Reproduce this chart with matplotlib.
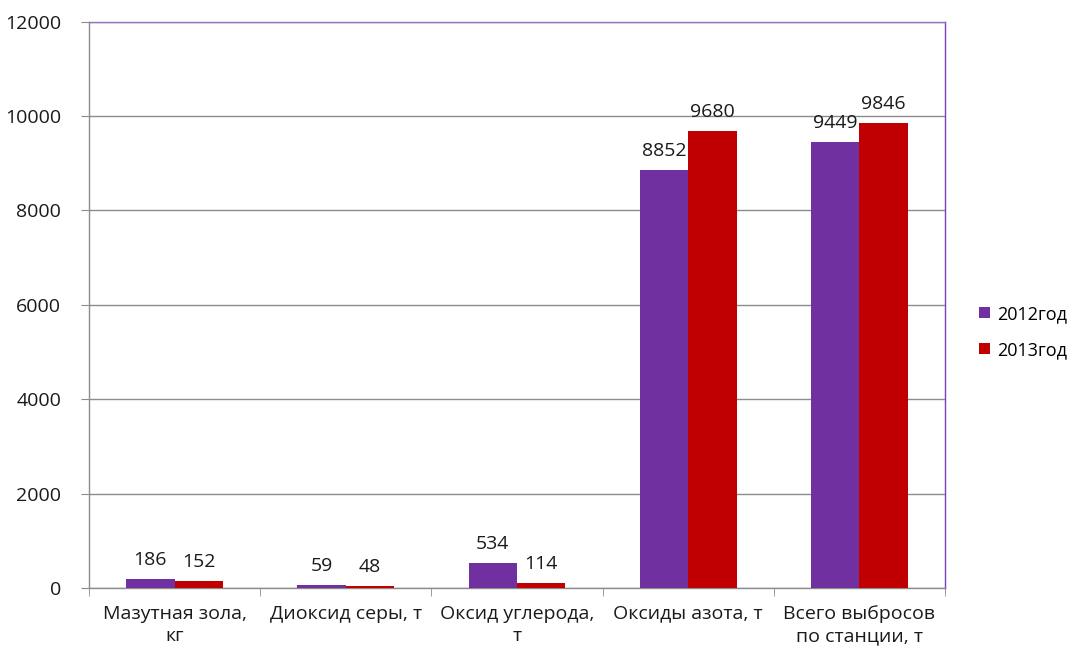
import numpy as np
import matplotlib.pyplot as plt
from matplotlib.ticker import FixedLocator

plt.rcParams['font.family'] = ['Open Sans', 'DejaVu Sans']

categories = ["Мазутная зола,\nкг", "Диоксид серы, т", "Оксид углерода,\nт",
              "Оксиды азота, т", "Всего выбросов\nпо станции, т"]
values_2012 = [186, 59, 534, 8852, 9449]
values_2013 = [152, 48, 114, 9680, 9846]
series_names = ["2012год", "2013год"]
colors = ["#7030A0", "#C00000"]

fig = plt.figure(figsize=(10.73, 6.48), dpi=100)
ax = fig.add_axes([0.0829, 0.0926, 0.7978, 0.8742])

x = np.arange(len(categories))
w = 0.283
b1 = ax.bar(x - w / 2, values_2012, w, color=colors[0], label=series_names[0], zorder=3)
b2 = ax.bar(x + w / 2, values_2013, w, color=colors[1], label=series_names[1], zorder=3)

for bars in (b1, b2):
    for rect in bars:
        h = rect.get_height()
        ax.annotate(str(int(h)), (rect.get_x() + rect.get_width() / 2, h),
                    xytext=(0, 7), textcoords="offset points",
                    ha="center", va="bottom", fontsize=14, color="#1a1a1a")

ax.set_xlim(-0.5, len(categories) - 0.5)
ax.set_ylim(0, 12000)
ax.set_yticks(np.arange(0, 12001, 2000))
ax.yaxis.grid(True, color="#8c8c8c", linewidth=1, zorder=0)
ax.set_axisbelow(True)

# category labels centred, ticks at the boundaries
ax.set_xticks(x)
ax.set_xticklabels(categories, fontsize=14, color="#1a1a1a", linespacing=1.3)
ax.tick_params(axis="x", length=0, pad=12)
ax.xaxis.set_minor_locator(FixedLocator(np.arange(-0.5, len(categories), 1)))
ax.tick_params(axis="x", which="minor", length=6, color="#8c8c8c", direction="out")
ax.tick_params(axis="y", length=6, color="#8c8c8c", labelsize=14, labelcolor="#1a1a1a", pad=14)

ax.spines["left"].set_color("#8c8c8c")
ax.spines["bottom"].set_color("#8c8c8c")
ax.spines["top"].set_color("#9a6fc8")
ax.spines["right"].set_color("#7a3fc0")
for s in ax.spines.values():
    s.set_linewidth(1)

leg = ax.legend(loc="center left", bbox_to_anchor=(1.04, 0.452), frameon=False,
                fontsize=13, handlelength=0.6, handleheight=0.6, handletextpad=0.4,
                labelspacing=1.0, borderaxespad=0, borderpad=0)

fig.savefig("out.png", dpi=100)
